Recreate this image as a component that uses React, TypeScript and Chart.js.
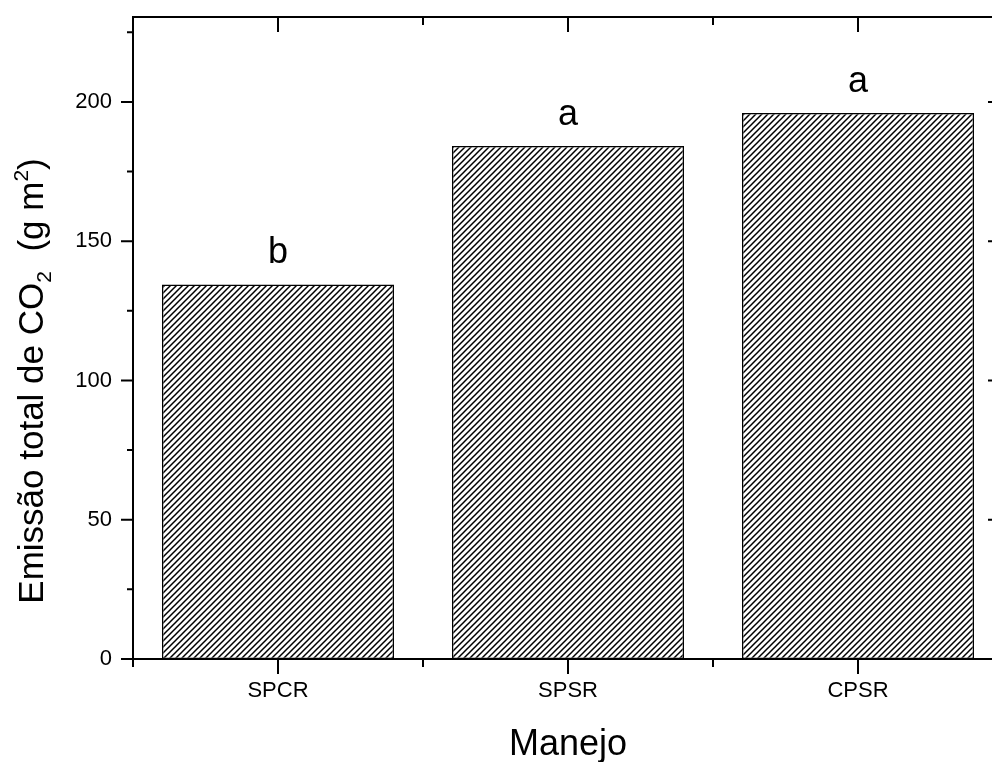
import React, { useEffect, useRef } from 'react';
import { Chart, registerables } from 'chart.js';

Chart.register(...registerables);

const categories = ['SPCR', 'SPSR', 'CPSR'];
const values = [134.5, 184.2, 196.0];
const letters = ['b', 'a', 'a'];
const yTickValues = [0, 50, 100, 150, 200];
const yMinorValues = [25, 75, 125, 175, 225];
const yMax = 230.5;
const yTitleMain = 'Emissão total de CO';
const yTitleSub = '2';
const yTitleMid = '  (g m';
const yTitleSup = '2';
const yTitleEnd = ')';
const xTitle = 'Manejo';

const FONT = '"Liberation Sans", Arial, sans-serif';

const framePlugin = {
  id: 'frame',
  afterDraw(chart: any) {
    const { ctx, chartArea: a, scales } = chart;
    const xs = scales.x;
    const ys = scales.y;
    ctx.save();
    ctx.strokeStyle = '#000';
    ctx.lineWidth = 2;
    ctx.beginPath();
    ctx.rect(a.left, a.top, a.right - a.left, a.bottom - a.top);
    ctx.stroke();

    ctx.beginPath();
    const h = (x1: number, x2: number, y: number) => { ctx.moveTo(x1, y); ctx.lineTo(x2, y); };
    const v = (x: number, y1: number, y2: number) => { ctx.moveTo(x, y1); ctx.lineTo(x, y2); };
    yTickValues.forEach((val) => {
      const p = ys.getPixelForValue(val);
      h(a.left - 12, a.left, p);
      h(a.right - 15, a.right, p);
    });
    yMinorValues.forEach((val) => {
      const p = ys.getPixelForValue(val);
      h(a.left - 6, a.left, p);
      h(a.right - 8, a.right, p);
    });
    categories.forEach((_, i) => {
      const p = xs.getPixelForValue(i);
      v(p, a.bottom, a.bottom + 15);
      v(p, a.top, a.top + 15);
    });
    for (let i = 0; i <= categories.length; i++) {
      const p = xs.getPixelForValue(i - 0.5);
      v(p, a.bottom, a.bottom + 8);
      v(p, a.top, a.top + 8);
    }
    ctx.stroke();

    // significance letters
    const meta = chart.getDatasetMeta(0);
    ctx.fillStyle = '#000';
    ctx.font = `36px ${FONT}`;
    ctx.textAlign = 'center';
    ctx.textBaseline = 'alphabetic';
    meta.data.forEach((bar: any, i: number) => {
      ctx.fillText(letters[i], bar.x, bar.y - 21);
    });

    // x title
    ctx.font = `36px ${FONT}`;
    ctx.fillText(xTitle, xs.getPixelForValue(1), 755);

    // y title with sub/superscript
    const big = `35px ${FONT}`;
    const small = `21px ${FONT}`;
    const parts = [
      { t: yTitleMain, f: big, dy: 0 },
      { t: yTitleSub, f: small, dy: 8 },
      { t: yTitleMid, f: big, dy: 0 },
      { t: yTitleSup, f: small, dy: -15 },
      { t: yTitleEnd, f: big, dy: 0 },
    ];
    let total = 0;
    parts.forEach((p) => { ctx.font = p.f; total += ctx.measureText(p.t).width; });
    ctx.translate(43, 381);
    ctx.rotate(-Math.PI / 2);
    ctx.textAlign = 'left';
    let cx = -total / 2;
    parts.forEach((p) => {
      ctx.font = p.f;
      ctx.fillText(p.t, cx, p.dy);
      cx += ctx.measureText(p.t).width;
    });
    ctx.restore();
  },
};

export default function App() {
  const ref = useRef<HTMLCanvasElement>(null);
  useEffect(() => {
    const canvas = ref.current!;
    const c2 = canvas.getContext('2d')!;
    const pc = document.createElement('canvas');
    const s = 6;
    pc.width = s;
    pc.height = s;
    const g = pc.getContext('2d')!;
    g.fillStyle = '#fff';
    g.fillRect(0, 0, s, s);
    g.strokeStyle = '#000';
    g.lineWidth = 1.5;
    g.beginPath();
    g.moveTo(-1, s + 1); g.lineTo(s + 1, -1);
    g.moveTo(-1, 1); g.lineTo(1, -1);
    g.moveTo(s - 1, s + 1); g.lineTo(s + 1, s - 1);
    g.stroke();
    const pattern = c2.createPattern(pc, 'repeat');

    const chart = new Chart(canvas, {
      type: 'bar',
      data: {
        labels: categories,
        datasets: [
          {
            data: values,
            backgroundColor: pattern as any,
            borderColor: '#000',
            borderWidth: 1.5,
            borderSkipped: false,
            barPercentage: 0.8,
            categoryPercentage: 1,
          },
        ],
      },
      options: {
        responsive: false,
        animation: false,
        layout: { padding: { top: 17, right: 7, left: 0, bottom: 0 } },
        plugins: { legend: { display: false }, tooltip: { enabled: false } },
        scales: {
          x: {
            type: 'category',
            offset: true,
            grid: { display: false, drawTicks: false },
            border: { display: false },
            ticks: { font: { family: FONT, size: 22 }, color: '#000', padding: 19, maxRotation: 0 },
            afterFit: (sc: any) => { sc.height = 103; sc.paddingLeft = 0; sc.paddingRight = 0; },
          },
          y: {
            min: 0,
            max: yMax,
            grid: { display: false, drawTicks: false },
            border: { display: false },
            ticks: { font: { family: FONT, size: 22 }, color: '#000', padding: 21 },
            afterBuildTicks: (sc: any) => { sc.ticks = yTickValues.map((v) => ({ value: v })); },
            afterFit: (sc: any) => { sc.width = 133; sc.paddingTop = 0; sc.paddingBottom = 0; },
          },
        },
      },
      plugins: [framePlugin],
    });
    return () => chart.destroy();
  }, []);
  return (
    <div style={{ position: 'fixed', left: 0, top: 0, width: 992, height: 762, overflow: 'hidden', background: '#fff' }}>
      <canvas ref={ref} width={1010} height={762} style={{ display: 'block', width: 1010, height: 762 }} />
    </div>
  );
}
